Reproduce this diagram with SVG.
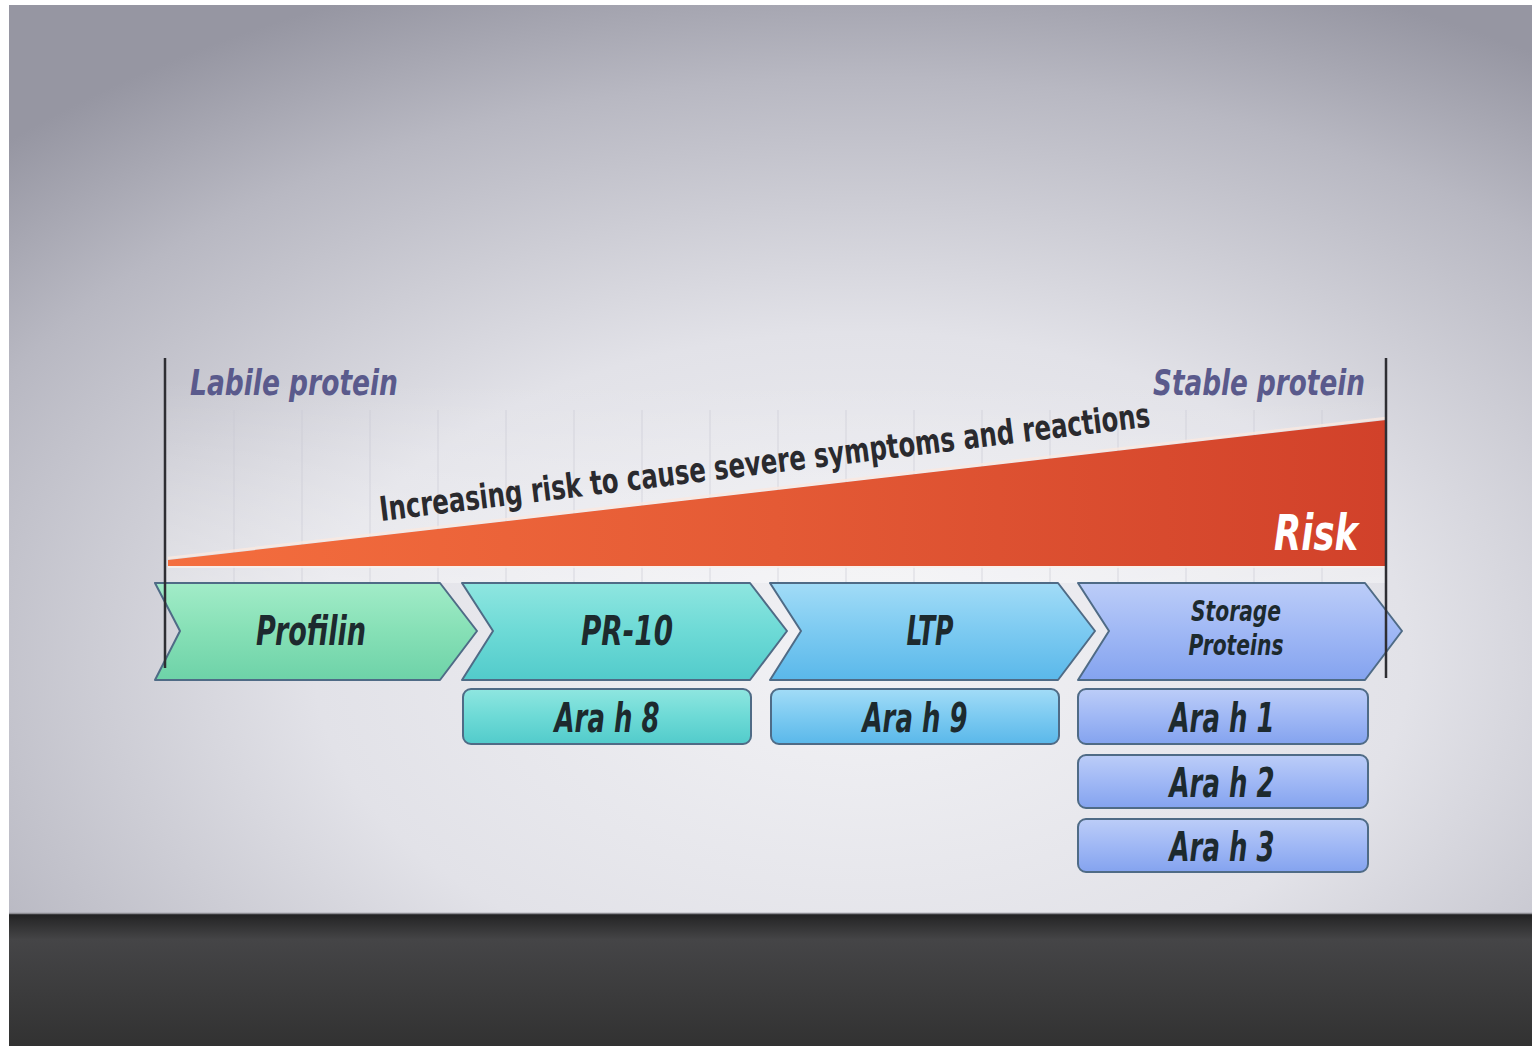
<svg xmlns="http://www.w3.org/2000/svg" width="1532" height="1046" viewBox="0 0 1532 1046">
<defs>
  <radialGradient id="bg" cx="0.56" cy="0.72" r="0.8">
    <stop offset="0" stop-color="#f2f2f5"/>
    <stop offset="0.45" stop-color="#e2e2e8"/>
    <stop offset="0.8" stop-color="#b8b8c2"/>
    <stop offset="1" stop-color="#9696a2"/>
  </radialGradient>
  <linearGradient id="panel" x1="0" y1="0" x2="0" y2="1">
    <stop offset="0" stop-color="#ffffff" stop-opacity="0"/>
    <stop offset="1" stop-color="#ffffff" stop-opacity="0.35"/>
  </linearGradient>
  <linearGradient id="floor" x1="0" y1="0" x2="0" y2="1">
    <stop offset="0" stop-color="#1f1f20"/>
    <stop offset="0.06" stop-color="#2c2c2d"/>
    <stop offset="0.2" stop-color="#454547"/>
    <stop offset="1" stop-color="#323232"/>
  </linearGradient>
  <linearGradient id="risk" x1="0" y1="0" x2="1" y2="0">
    <stop offset="0" stop-color="#f46e3e"/>
    <stop offset="0.5" stop-color="#e45a35"/>
    <stop offset="1" stop-color="#d1412a"/>
  </linearGradient>
  <linearGradient id="gProf" x1="0" y1="0" x2="0" y2="1">
    <stop offset="0" stop-color="#a2ecc8"/>
    <stop offset="0.5" stop-color="#86e0b6"/>
    <stop offset="1" stop-color="#6ed2a8"/>
  </linearGradient>
  <linearGradient id="gPR" x1="0" y1="0" x2="0" y2="1">
    <stop offset="0" stop-color="#8fe6e0"/>
    <stop offset="0.5" stop-color="#6ddad6"/>
    <stop offset="1" stop-color="#52cbcb"/>
  </linearGradient>
  <linearGradient id="gLTP" x1="0" y1="0" x2="0" y2="1">
    <stop offset="0" stop-color="#a2dcf7"/>
    <stop offset="0.5" stop-color="#7ccaf1"/>
    <stop offset="1" stop-color="#5ab8ea"/>
  </linearGradient>
  <linearGradient id="gSto" x1="0" y1="0" x2="0" y2="1">
    <stop offset="0" stop-color="#bccdf8"/>
    <stop offset="0.5" stop-color="#a0b8f5"/>
    <stop offset="1" stop-color="#84a3ef"/>
  </linearGradient>
  <style>
    .chev { stroke: #4f6b86; stroke-width: 2; stroke-linejoin: round; }
    .box { stroke: #4f6b86; stroke-width: 2; }
    .lbl { font-family: "DejaVu Sans Condensed", "Liberation Sans Narrow", "Liberation Sans", sans-serif; font-style: italic; font-weight: bold; fill: #1d2a2e; text-anchor: middle; }
    .side { font-family: "DejaVu Sans Condensed", "Liberation Sans Narrow", "Liberation Sans", sans-serif; font-style: italic; font-weight: bold; fill: #5a5a8c; font-size: 36px; }
    .grid { stroke: #c9c9d3; stroke-width: 1.5; opacity: 0.4; }
    .axis { stroke: #2e2e33; stroke-width: 2.5; }
  </style>
</defs>

<rect x="0" y="0" width="1532" height="1046" fill="#ffffff"/>
<rect x="9" y="5" width="1523" height="909" fill="url(#bg)"/>
<rect x="9" y="913" width="1523" height="133" fill="url(#floor)"/>
<line x1="9" y1="913.5" x2="1532" y2="913.5" stroke="#8c8c92" stroke-width="1.5"/>

<rect x="166" y="380" width="1220" height="203" fill="url(#panel)"/>

<g id="grid">
  <line class="grid" x1="234" y1="410" x2="234" y2="583"/>
  <line class="grid" x1="302" y1="410" x2="302" y2="583"/>
  <line class="grid" x1="370" y1="410" x2="370" y2="583"/>
  <line class="grid" x1="438" y1="410" x2="438" y2="583"/>
  <line class="grid" x1="506" y1="410" x2="506" y2="583"/>
  <line class="grid" x1="574" y1="410" x2="574" y2="583"/>
  <line class="grid" x1="642" y1="410" x2="642" y2="583"/>
  <line class="grid" x1="710" y1="410" x2="710" y2="583"/>
  <line class="grid" x1="778" y1="410" x2="778" y2="583"/>
  <line class="grid" x1="846" y1="410" x2="846" y2="583"/>
  <line class="grid" x1="914" y1="410" x2="914" y2="583"/>
  <line class="grid" x1="982" y1="410" x2="982" y2="583"/>
  <line class="grid" x1="1050" y1="410" x2="1050" y2="583"/>
  <line class="grid" x1="1118" y1="410" x2="1118" y2="583"/>
  <line class="grid" x1="1186" y1="410" x2="1186" y2="583"/>
  <line class="grid" x1="1254" y1="410" x2="1254" y2="583"/>
  <line class="grid" x1="1322" y1="410" x2="1322" y2="583"/>
</g>

<g id="risk-wedge">
  <polygon points="168,560 1386,420 1386,566 168,566" fill="url(#risk)"/>
  <line x1="168" y1="558" x2="1386" y2="418" stroke="#fbe9e0" stroke-width="2.5" opacity="0.8"/>
  <line x1="168" y1="567" x2="1386" y2="567" stroke="#fbefe9" stroke-width="2" opacity="0.8"/>
  <text x="1358" y="550" font-family="'DejaVu Sans Condensed', 'Liberation Sans Narrow', 'Liberation Sans', sans-serif" font-style="italic" font-weight="bold" font-size="50" fill="#ffffff" text-anchor="end" textLength="84" lengthAdjust="spacingAndGlyphs">Risk</text>
</g>

<text class="side" x="190" y="395" textLength="208" lengthAdjust="spacingAndGlyphs">Labile protein</text>
<text class="side" x="1153" y="395" textLength="212" lengthAdjust="spacingAndGlyphs">Stable protein</text>

<text x="381" y="521" transform="rotate(-7 381 521)" font-family="'DejaVu Sans Condensed', 'Liberation Sans Narrow', 'Liberation Sans', sans-serif" font-weight="bold" font-size="34" fill="#2a2a2e" textLength="776" lengthAdjust="spacingAndGlyphs">Increasing risk to cause severe symptoms and reactions</text>

<g id="node-profilin">
  <path class="chev" d="M155,583 L440,583 L477,631 L440,680 L155,680 L180,631 Z" fill="url(#gProf)"/>
  <text class="lbl" x="311" y="645" font-size="40" textLength="110" lengthAdjust="spacingAndGlyphs">Profilin</text>
</g>
<g id="node-pr10">
  <path class="chev" d="M462,583 L750,583 L787,631 L750,680 L462,680 L493,631 Z" fill="url(#gPR)"/>
  <text class="lbl" x="627" y="645" font-size="40" textLength="92" lengthAdjust="spacingAndGlyphs">PR-10</text>
</g>
<g id="node-ltp">
  <path class="chev" d="M770,583 L1058,583 L1095,631 L1058,680 L770,680 L801,631 Z" fill="url(#gLTP)"/>
  <text class="lbl" x="930" y="645" font-size="40" textLength="47" lengthAdjust="spacingAndGlyphs">LTP</text>
</g>
<g id="node-storage">
  <path class="chev" d="M1078,583 L1365,583 L1402,631 L1365,680 L1078,680 L1109,631 Z" fill="url(#gSto)"/>
  <text class="lbl" x="1236" y="621" font-size="28" font-weight="normal" textLength="90" lengthAdjust="spacingAndGlyphs">Storage</text>
  <text class="lbl" x="1236" y="655" font-size="28" font-weight="normal" textLength="95" lengthAdjust="spacingAndGlyphs">Proteins</text>
</g>

<g id="node-arah8">
  <rect class="box" x="463" y="689" width="288" height="55" rx="8" fill="url(#gPR)"/>
  <text class="lbl" x="607" y="732" font-size="40" textLength="105" lengthAdjust="spacingAndGlyphs">Ara h 8</text>
</g>
<g id="node-arah9">
  <rect class="box" x="771" y="689" width="288" height="55" rx="8" fill="url(#gLTP)"/>
  <text class="lbl" x="915" y="732" font-size="40" textLength="105" lengthAdjust="spacingAndGlyphs">Ara h 9</text>
</g>
<g id="node-arah1">
  <rect class="box" x="1078" y="689" width="290" height="55" rx="8" fill="url(#gSto)"/>
  <text class="lbl" x="1222" y="732" font-size="40" textLength="105" lengthAdjust="spacingAndGlyphs">Ara h 1</text>
</g>
<g id="node-arah2">
  <rect class="box" x="1078" y="755" width="290" height="53" rx="8" fill="url(#gSto)"/>
  <text class="lbl" x="1222" y="797" font-size="40" textLength="105" lengthAdjust="spacingAndGlyphs">Ara h 2</text>
</g>
<g id="node-arah3">
  <rect class="box" x="1078" y="819" width="290" height="53" rx="8" fill="url(#gSto)"/>
  <text class="lbl" x="1222" y="861" font-size="40" textLength="105" lengthAdjust="spacingAndGlyphs">Ara h 3</text>
</g>

<g id="connectors">
  <line class="axis" x1="165" y1="358" x2="165" y2="668"/>
  <line class="axis" x1="1386" y1="358" x2="1386" y2="678"/>
</g>
</svg>
